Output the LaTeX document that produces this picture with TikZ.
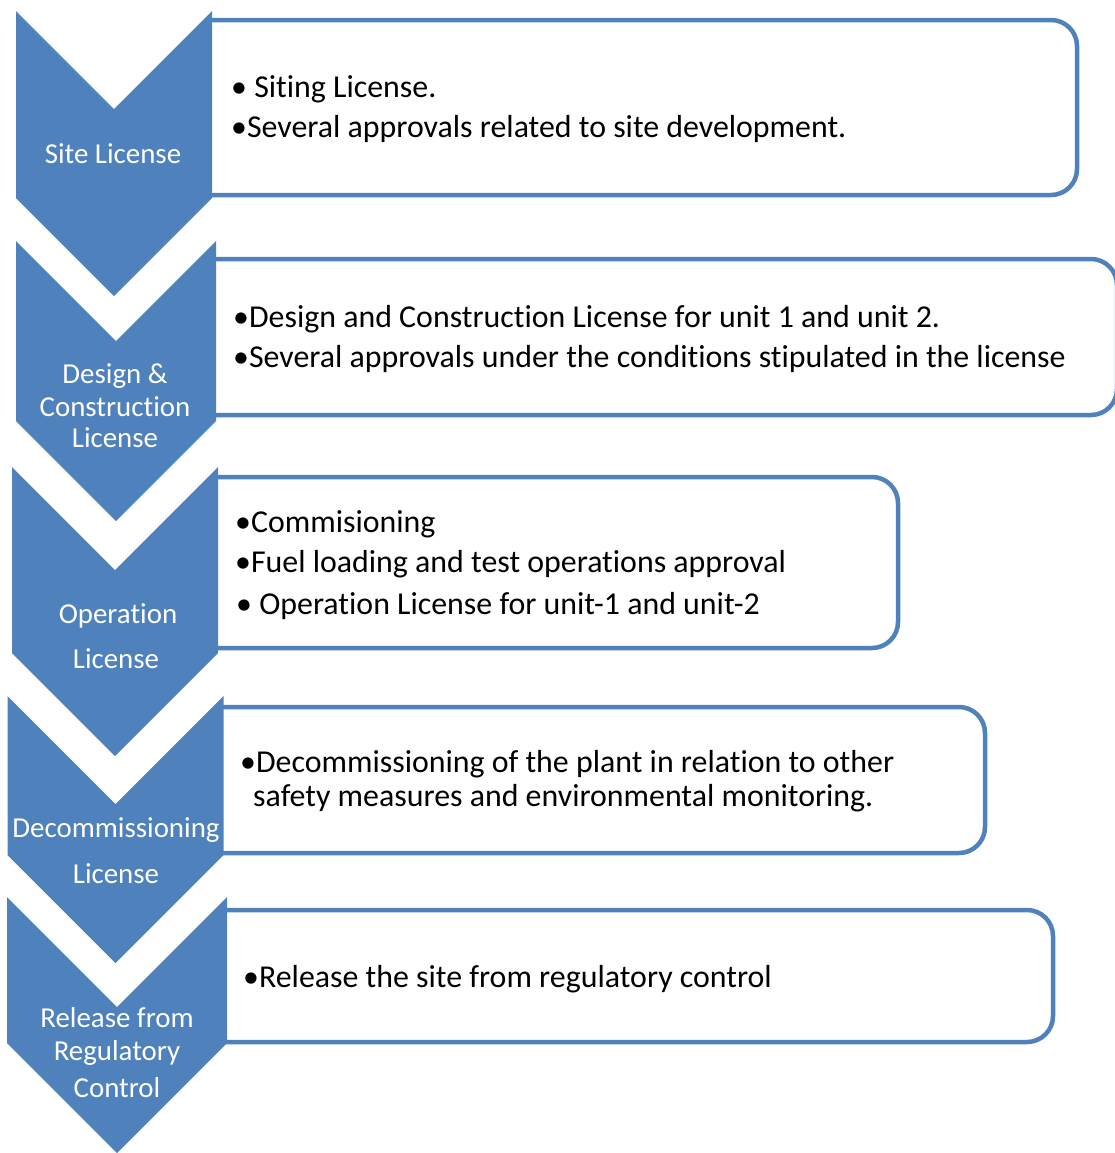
\documentclass[tikz,border=0pt]{standalone}
\usepackage{fontspec}
\setmainfont{Carlito}[Ligatures={NoCommon,NoRare}]
\definecolor{ofblue}{HTML}{4F81BD}
\tikzset{
  chev/.style={fill=ofblue, draw=none},
  infobox/.style={draw=ofblue, line width=4.5bp, rounded corners=26bp},
  chevlabel/.style={text=white, font=\fontsize{29}{32}\selectfont, inner sep=0pt, anchor=center},
  boxline/.style={text=black, font=\fontsize{32}{36}\selectfont, inner sep=0pt, anchor=west},
}
\begin{document}
\begin{tikzpicture}[x=1bp, y=-1bp]
\useasboundingbox (0,0) rectangle (1115,1153);
% boxes (open on the left, where they meet the chevrons)
\draw[infobox] (205,20) -- (1077,20) -- (1077,195) -- (205,195);
\draw[infobox] (209,259) -- (1117,259) -- (1117,415) -- (209,415);
\draw[infobox] (211,477) -- (898,477) -- (898,648) -- (211,648);
\draw[infobox] (216,707) -- (985,707) -- (985,853) -- (216,853);
\draw[infobox] (220,910) -- (1053,910) -- (1053,1042) -- (220,1042);
% chevrons
\fill[chev] (16,11) -- (114,109) -- (212,11) -- (212,198) -- (114,296) -- (16,198) -- cycle;
\fill[chev] (16,241) -- (116,341) -- (216,241) -- (216,421) -- (116,521) -- (16,421) -- cycle;
\fill[chev] (12,467) -- (115,570) -- (218,467) -- (218,653) -- (115,756) -- (12,653) -- cycle;
\fill[chev] (7.5,696) -- (115.5,804) -- (223.5,696) -- (223.5,855) -- (115.5,963) -- (7.5,855) -- cycle;
\fill[chev] (7,897) -- (117,1007) -- (227,897) -- (227,1043) -- (117,1153) -- (7,1043) -- cycle;
% chevron labels
\node[chevlabel] (c1) at (113,154) {Site License};
\node[chevlabel] (c2a) at (115,376) {Design \&};
\node[chevlabel] (c2b) at (115,407) {Construction};
\node[chevlabel] (c2c) at (115,438) {License};
\node[chevlabel] (c3a) at (118,616) {Operation};
\node[chevlabel] (c3b) at (116,659) {License};
\node[chevlabel] (c4a) at (116,830) {Decommissioning};
\node[chevlabel] (c4b) at (116,874) {License};
\node[chevlabel] (c5a) at (117,1018) {Release from};
\node[chevlabel] (c5b) at (117,1053) {Regulatory};
\node[chevlabel] (c5c) at (117,1088) {Control};
% box texts
\node[boxline] (t1a) at (231,89) {• Siting License.};
\node[boxline] (t1b) at (231,129) {•Several approvals related to site development.};
\node[boxline] (t2a) at (233,319) {•Design and Construction License for unit 1 and unit 2.};
\node[boxline] (t2b) at (233,359) {•Several approvals under the conditions stipulated in the license};
\node[boxline] (t3a) at (235,524) {•Commisioning};
\node[boxline] (t3b) at (235,564) {•Fuel loading and test operations approval};
\node[boxline] (t3c) at (236,606) {• Operation License for unit-1 and unit-2};
\node[boxline] (t4a) at (240,764) {•Decommissioning of the plant in relation to other};
\node[boxline] (t4b) at (253,798) {safety measures and environmental monitoring.};
\node[boxline] (t5a) at (243,979) {•Release the site from regulatory control};
\end{tikzpicture}
\end{document}
